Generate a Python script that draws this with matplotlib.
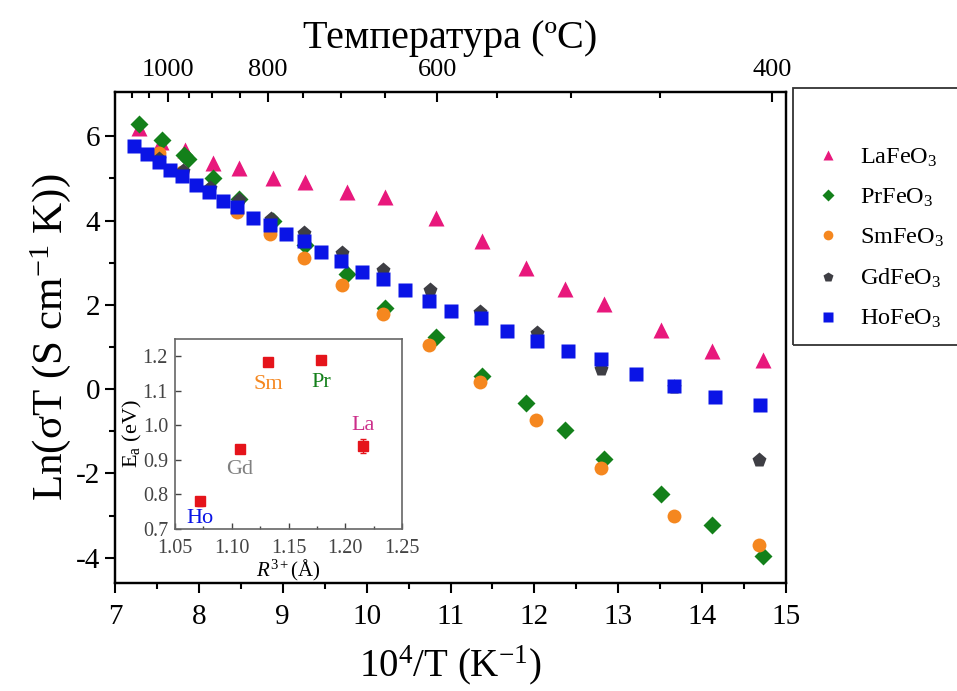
import matplotlib
matplotlib.use("Agg")
import matplotlib.pyplot as plt
from matplotlib.patches import Rectangle

plt.rcParams['font.family'] = ['Liberation Serif', 'DejaVu Serif']
plt.rcParams['mathtext.fontset'] = 'custom'
plt.rcParams['mathtext.rm'] = 'Liberation Serif'
plt.rcParams['mathtext.it'] = 'Liberation Serif:italic'
plt.rcParams['axes.unicode_minus'] = False

# main data: 10^4/T vs Ln(sigma T)
la_x = [7.28, 7.55, 7.83, 8.17, 8.48, 8.88, 9.27, 9.77, 10.22, 10.83, 11.38, 11.9, 12.37, 12.83, 13.51, 14.12, 14.72]
la_y = [6.2, 5.87, 5.67, 5.36, 5.24, 5.0, 4.92, 4.68, 4.55, 4.05, 3.52, 2.87, 2.37, 2.02, 1.41, 0.91, 0.70]

pr_x = [7.28, 7.56, 7.82, 7.87, 8.17, 8.48, 8.88, 9.26, 9.77, 10.22, 10.83, 11.37, 11.9, 12.37, 12.83, 13.51, 14.12, 14.72]
pr_y = [6.3, 5.9, 5.55, 5.45, 5.0, 4.52, 4.0, 3.41, 2.72, 1.92, 1.23, 0.3, -0.33, -0.97, -1.65, -2.48, -3.23, -3.97]

sm_x = [7.52, 7.8, 8.46, 8.85, 9.25, 9.71, 10.2, 10.74, 11.35, 12.02, 12.79, 13.67, 14.68]
sm_y = [5.6, 5.16, 4.2, 3.67, 3.11, 2.48, 1.79, 1.05, 0.17, -0.73, -1.88, -3.02, -3.69]

gd_x = [7.52, 7.81, 8.13, 8.48, 8.86, 9.25, 9.71, 10.2, 10.75, 11.35, 12.03, 12.8, 13.67, 14.68]
gd_y = [5.46, 5.18, 4.78, 4.48, 4.03, 3.71, 3.24, 2.83, 2.34, 1.84, 1.33, 0.48, 0.04, -1.67]

ho_x = [7.23, 7.38, 7.52, 7.65, 7.8, 7.96, 8.12, 8.29, 8.46, 8.65, 8.85, 9.04, 9.25, 9.46, 9.7,
        9.94, 10.19, 10.46, 10.74, 11.0, 11.36, 11.67, 12.03, 12.4, 12.8, 13.21, 13.67, 14.15, 14.69]
ho_y = [5.77, 5.58, 5.4, 5.21, 5.06, 4.84, 4.67, 4.47, 4.33, 4.06, 3.89, 3.67, 3.51, 3.25, 3.03,
        2.79, 2.62, 2.34, 2.1, 1.85, 1.68, 1.37, 1.15, 0.9, 0.72, 0.36, 0.08, -0.19, -0.38]

# inset: activation energy vs ionic radius
ions = ['Ho', 'Gd', 'Sm', 'Pr', 'La']
radius = [1.072, 1.107, 1.132, 1.179, 1.216]
ea = [0.78, 0.933, 1.184, 1.188, 0.941]
ea_err = [0.012, 0.008, 0.01, 0.01, 0.02]

# top axis (temperature, C): labels and where they sit on the 10^4/T scale
top_labels = ['1000', '800', '600', '400']
top_major_x = [7.63, 8.82, 10.84, 14.83]
top_minor_x = [7.20, 7.41, 7.88, 8.16, 8.49, 9.24, 9.70, 10.22, 11.55, 12.44, 13.50]

pink = '#e8187c'
green = '#13801a'
orange = '#f5871f'
grey = '#3e3e44'
blue = '#0a14e6'

fig = plt.figure(figsize=(9.57, 6.91), dpi=100)
ax = fig.add_axes([0.1202, 0.1563, 0.7011, 0.7106])

ms = 10
ax.plot(la_x, la_y, '^', color=pink, ms=ms + 1, mec='none', label='LaFeO$_3$')
ax.plot(pr_x, pr_y, 'D', color=green, ms=ms - 1, mec='none', label='PrFeO$_3$')
ax.plot(sm_x, sm_y, 'o', color=orange, ms=ms, mec='none', label='SmFeO$_3$')
ax.plot(gd_x, gd_y, 'p', color=grey, ms=ms + 1, mec='none', label='GdFeO$_3$')
ax.plot(ho_x, ho_y, 's', color=blue, ms=ms - 0.5, mec='none', label='HoFeO$_3$')

ax.set_xlim(7, 15)
ax.set_ylim(-4.6, 7.05)
ax.set_xticks(range(7, 16))
ax.set_xticks([x + 0.5 for x in range(7, 15)], minor=True)
ax.set_yticks([-4, -2, 0, 2, 4, 6])
ax.set_yticks([-3, -1, 1, 3, 5], minor=True)
ax.tick_params(axis='both', which='major', labelsize=21, length=7, width=1.5, direction='out')
ax.tick_params(axis='x', which='major', pad=8)
ax.tick_params(axis='both', which='minor', length=4, width=1.5, direction='out')
ax.tick_params(top=False, right=False, which='both')
for s in ax.spines.values():
    s.set_linewidth(1.6)
ax.set_xlabel('10$^4$/T (K$^{-1}$)', fontsize=28, labelpad=10)
ax.set_ylabel('Ln(σT (S cm$^{-1}$ K))', fontsize=31, labelpad=2)

# top temperature axis
ax2 = ax.twiny()
ax2.set_xlim(ax.get_xlim())
ax2.set_xticks(top_major_x)
ax2.set_xticklabels(top_labels)
ax2.set_xticks(top_minor_x, minor=True)
ax2.tick_params(axis='x', which='major', labelsize=19, length=7, width=1.5, direction='in', pad=8)
ax2.tick_params(axis='x', which='minor', length=4, width=1.5, direction='in')
ax2.set_xlabel('Температура (ºC)', fontsize=29, labelpad=8)
for s in ax2.spines.values():
    s.set_linewidth(1.6)

# legend in a box that runs off the right edge
fig.patches.append(Rectangle((793 / 957, 1 - 345 / 691), 0.3, (345 - 88) / 691,
                             transform=fig.transFigure, fill=False, ec='#333333', lw=1.3))
h, l = ax.get_legend_handles_labels()
fig.legend(h, l, loc='upper left', bbox_to_anchor=(792 / 957, 1 - 125 / 691), frameon=False,
           fontsize=17.5, markerscale=0.7, handletextpad=0.7, labelspacing=0.73, handlelength=1.2)

# inset
ins = fig.add_axes([175 / 957, 1 - 529 / 691, 227 / 957, 190 / 691])
ins.errorbar(radius, ea, yerr=ea_err, fmt='s', color='#e5141b', ms=7, capsize=2, elinewidth=1)
ins.set_xlim(1.05, 1.25)
ins.set_ylim(0.7, 1.25)
ins.set_xticks([1.05, 1.10, 1.15, 1.20, 1.25])
ins.set_xticklabels(['1.05', '1.10', '1.15', '1.20', '1.25'])
ins.set_yticks([0.7, 0.8, 0.9, 1.0, 1.1, 1.2])
ins.set_xticks([1.075, 1.125, 1.175, 1.225], minor=True)
ins.tick_params(axis='both', which='major', labelsize=14.5, length=4, width=1, direction='in',
                colors='#444444')
ins.tick_params(axis='x', which='major', pad=7)
ins.tick_params(axis='y', which='major', pad=5)
ins.tick_params(axis='both', which='minor', length=2, width=1, direction='in', colors='#444444')
for s in ins.spines.values():
    s.set_color('#666666')
    s.set_linewidth(1.2)
ins.set_xlabel('$R^{3+}$(Å)', fontsize=15, labelpad=0)
ins.set_ylabel(r'E$_\mathrm{a}$ (eV)', fontsize=16, labelpad=-1)

ion_colors = [blue, 'grey', orange, green, '#cc2e8a']
ion_dy = [-0.05, -0.06, -0.065, -0.065, 0.06]
for name, r, e, c, dy in zip(ions, radius, ea, ion_colors, ion_dy):
    ins.text(r, e + dy, name, color=c, fontsize=16, ha='center', va='center')

fig.savefig('out.png', dpi=100)
